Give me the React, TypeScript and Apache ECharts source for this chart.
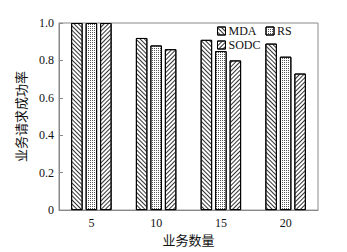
import React, { useEffect, useRef } from "react";
import * as echarts from "echarts";

const categories = ["5", "10", "15", "20"];
const seriesNames = ["MDA", "RS", "SODC"];
const mdaValues = [1.0, 0.92, 0.91, 0.89];
const rsValues = [1.0, 0.88, 0.85, 0.82];
const sodcValues = [1.0, 0.86, 0.8, 0.73];
const yTicks = [0, 0.2, 0.4, 0.6, 0.8, 1.0];

const FONT = "'Liberation Serif', 'Noto Sans CJK SC', serif";

const decals: any[] = [
  {
    symbol: "rect",
    color: "#333",
    dashArrayX: [1, 0],
    dashArrayY: [1, 1.2],
    rotation: Math.PI / 4,
  },
  {
    symbol: "rect",
    color: "#555",
    symbolSize: 1,
    dashArrayX: [1, 1],
    dashArrayY: [1, 1],
    rotation: 0,
  },
  {
    symbol: "rect",
    color: "#333",
    dashArrayX: [1, 0],
    dashArrayY: [1, 1.2],
    rotation: -Math.PI / 4,
  },
];

export default function App() {
  const ref = useRef<HTMLDivElement>(null);
  useEffect(() => {
    document.body.style.margin = "0";
    if (!ref.current) return;
    const chart = echarts.init(ref.current, null, { renderer: "svg" });
    const values = [mdaValues, rsValues, sodcValues];
    const legendCommon = {
      itemWidth: 8,
      itemHeight: 8,
      itemGap: 9,
      icon: "rect",
      itemStyle: { borderColor: "#000", borderWidth: 1 },
      textStyle: { fontFamily: FONT, fontSize: 12, color: "#111", padding: [0, 0, 0, -2] },
      padding: 0,
    };
    chart.setOption({
      animation: false,
      backgroundColor: "#fff",
      grid: {
        left: 59,
        right: 29,
        top: 23,
        bottom: 40,
        show: true,
        borderColor: "#888",
        borderWidth: 1,
      },
      legend: [
        { ...legendCommon, data: ["MDA", "RS"], left: 217, top: 25 },
        { ...legendCommon, data: ["SODC"], left: 217, top: 39 },
      ],
      xAxis: {
        type: "category",
        data: categories,
        name: "业务数量",
        nameLocation: "middle",
        nameGap: 22,
        nameTextStyle: { fontFamily: FONT, fontSize: 13, color: "#111" },
        axisLine: { lineStyle: { color: "#888" } },
        axisTick: { show: false },
        axisLabel: { fontFamily: FONT, fontSize: 12, color: "#111", margin: 7 },
      },
      yAxis: {
        type: "value",
        min: 0,
        max: 1,
        interval: 0.2,
        name: "业务请求成功率",
        nameLocation: "middle",
        nameGap: 27,
        nameTextStyle: { fontFamily: FONT, fontSize: 13, color: "#111" },
        axisLine: { show: true, lineStyle: { color: "#888" } },
        axisTick: { show: true, inside: true, length: 4, lineStyle: { color: "#888" } },
        splitLine: { show: false },
        axisLabel: {
          fontFamily: FONT,
          fontSize: 12,
          color: "#111",
          margin: 5,
          formatter: (v: number) => {
            const t = yTicks.find((x) => Math.abs(x - v) < 1e-6);
            const val = t === undefined ? v : t;
            return val === 0 ? "0" : val.toFixed(1);
          },
        },
      },
      series: seriesNames.map((name, i) => ({
        name,
        type: "bar",
        data: values[i],
        barWidth: 11.5,
        barGap: "26%",
        itemStyle: {
          color: "#fff",
          borderColor: "#000",
          borderWidth: 1,
          decal: decals[i],
        },
      })),
    });
    return () => chart.dispose();
  }, []);
  return <div ref={ref} style={{ width: 347, height: 252 }} />;
}
